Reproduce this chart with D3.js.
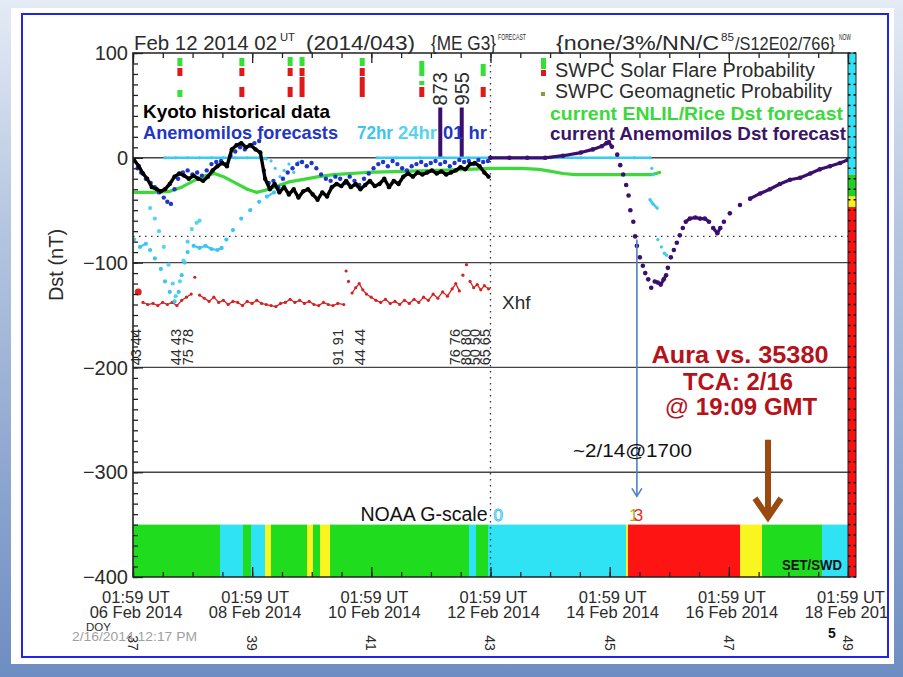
<!DOCTYPE html>
<html><head><meta charset="utf-8">
<script src="https://cdn.jsdelivr.net/npm/d3@7/dist/d3.min.js"></script>
<style>
html,body{margin:0;padding:0;background:#fff;}
svg{display:block;}
</style></head><body>
<svg id="c" width="903" height="677"></svg>
<script>
// ---------------- DATA ----------------
// time = day of February 2014 (UT, fractional); values = Dst (nT)
const timeDomain = [6.083, 18.083];
const dstDomain = [100, -400];
const yTickValues = [100, 0, -100, -200, -300, -400];
const xTickDays = [6.083, 8.083, 10.083, 12.083, 14.083, 16.083, 18.083];
const xTickLine1 = ["01:59 UT","01:59 UT","01:59 UT","01:59 UT","01:59 UT","01:59 UT","01:59 UT"];
const xTickLine2 = ["06 Feb 2014","08 Feb 2014","10 Feb 2014","12 Feb 2014","14 Feb 2014","16 Feb 2014","18 Feb 2014"];
const doyLabels = ["37","39","41","43","45","47","49"];
const gridDst = [0, -100, -200, -300];
const dottedDst = -75;
const nowDay = 12.083;

const kyoto = [[6.10,-2],[6.18,-8],[6.25,-15],[6.32,-20],[6.40,-28],[6.48,-30],[6.55,-32],[6.62,-30],[6.70,-25],[6.78,-18],[6.86,-15],[6.94,-17],[7.02,-20],[7.10,-17],[7.18,-20],[7.26,-22],[7.34,-18],[7.42,-12],[7.50,-8],[7.58,-5],[7.66,-8],[7.74,8],[7.82,12],[7.90,14],[7.98,10],[8.06,12],[8.14,8],[8.22,5],[8.30,-20],[8.38,-30],[8.46,-25],[8.54,-33],[8.62,-28],[8.70,-35],[8.78,-30],[8.86,-38],[8.94,-32],[9.02,-30],[9.10,-35],[9.18,-40],[9.26,-33],[9.34,-37],[9.42,-28],[9.50,-25],[9.58,-27],[9.66,-22],[9.74,-28],[9.82,-25],[9.90,-30],[9.98,-26],[10.06,-22],[10.14,-27],[10.22,-25],[10.30,-20],[10.38,-28],[10.46,-22],[10.54,-25],[10.62,-18],[10.70,-15],[10.78,-18],[10.86,-14],[10.94,-16],[11.02,-14],[11.10,-12],[11.18,-15],[11.26,-13],[11.34,-16],[11.42,-14],[11.50,-12],[11.58,-9],[11.66,-11],[11.74,-6],[11.82,-5],[11.90,-8],[11.98,-14],[12.05,-18]];

const anemo01hr = [[6.10,-3],[6.16,-10],[6.22,-14],[6.30,-20],[6.38,-24],[6.45,-28],[6.52,-33],[6.60,-38],[6.66,-42],[6.72,-44],[6.78,-30],[6.84,-20],[6.92,-14],[7.00,-12],[7.08,-16],[7.16,-14],[7.24,-17],[7.32,-12],[7.40,-6],[7.48,-4],[7.56,-3],[7.64,-6],[7.72,2],[7.80,6],[7.88,10],[7.96,8],[8.04,12],[8.12,14],[8.20,16],[8.28,-12],[8.36,-24],[8.44,-22],[8.52,-28],[8.60,-20],[8.68,-14],[8.76,-10],[8.84,-6],[8.92,-4],[9.00,-8],[9.08,-5],[9.16,-10],[9.24,-16],[9.32,-20],[9.40,-22],[9.48,-18],[9.56,-20],[9.64,-24],[9.72,-18],[9.80,-22],[9.88,-26],[9.96,-20],[10.04,-15],[10.12,-10],[10.20,-6],[10.28,-4],[10.36,-8],[10.44,-3],[10.52,-6],[10.60,-10],[10.68,-12],[10.76,-8],[10.84,-6],[10.92,-4],[11.00,-7],[11.08,-5],[11.16,-3],[11.24,-6],[11.32,-4],[11.40,-8],[11.48,-5],[11.56,-2],[11.64,-4],[11.72,-3],[11.80,-6],[11.88,-2],[11.96,-4],[12.04,-3]];

const cyan72 = [[6.10,-78],[6.20,-85],[6.30,-82],[6.37,-88],[6.45,-96],[6.55,-106],[6.62,-118],[6.70,-128],[6.78,-137],[6.85,-128],[6.90,-112],[6.95,-100],[7.00,-90],[7.10,-84],[7.20,-86],[7.30,-84],[7.40,-87],[7.50,-88],[7.57,-86],[7.65,-78],[7.76,-69],[7.90,-58],[8.05,-50],[8.20,-42],[8.33,-37],[8.45,-33]];
const cyan24 = [[6.37,-48],[6.45,-58],[6.52,-70],[6.60,-85],[6.68,-102],[6.75,-120],[6.80,-132],[6.87,-118],[6.93,-98],[7.00,-80],[7.07,-68],[7.15,-62],[7.20,-60]];
const cyanZero = [[6.62,0],[6.80,0],[7.00,0],[7.20,0],[7.40,0],[7.60,0],[7.80,0],[8.00,0],[8.20,0],[8.32,-1],null,
  [8.40,-3],[8.47,-10],[8.55,-18],[8.62,-12],[8.70,-6],[8.78,-14],[8.86,-4],null,
  [10.18,0],[10.50,0],[10.90,0],[11.30,0],[11.70,0],[12.08,0],[12.60,0],[13.10,0],[13.60,0],[14.10,0],[14.50,0],[14.76,0],[14.79,-10],[14.81,-16],null,
  [14.76,-40],[14.81,-44],[14.88,-48],null,[14.89,-78],[14.95,-85],[15.00,-91],[15.04,-93]];

const enlil = [[6.08,-33],[6.40,-33],[6.70,-32],[6.90,-28],[7.10,-22],[7.30,-17],[7.45,-15],[7.60,-18],[7.80,-24],[8.00,-30],[8.16,-33],[8.30,-31],[8.50,-27],[8.70,-23],[8.90,-21],[9.20,-18],[9.45,-16],[10.00,-14],[10.60,-13],[11.20,-12],[11.70,-11],[12.08,-10],[12.60,-10],[12.90,-11],[13.10,-13],[13.30,-15],[13.50,-16],[14.00,-16],[14.50,-16],[14.80,-16],[14.92,-14]];

const anemoCurrent = [[12.08,0],[12.40,0],[12.70,0],[13.00,0],[13.30,2],[13.60,5],[13.80,8],[13.95,11],[14.03,14],[14.07,15],[14.12,10.5],[14.21,3],[14.26,-7],[14.31,-16],[14.36,-26],[14.40,-36],[14.43,-50],[14.48,-61],[14.51,-75],[14.54,-84],[14.59,-95],[14.64,-103],[14.68,-110],[14.73,-116],[14.78,-124],[14.84,-118],[14.89,-119],[14.94,-121],[14.99,-116],[15.03,-112],[15.06,-105],[15.11,-95],[15.16,-88],[15.21,-81],[15.26,-74],[15.31,-67],[15.36,-61],[15.43,-58],[15.52,-57],[15.60,-58],[15.68,-58],[15.75,-61],[15.82,-67],[15.89,-72],[15.94,-67],[16.00,-61],[16.10,-53],[16.27,-45],[16.44,-39],[16.61,-34],[16.77,-30],[16.94,-25],[17.11,-21],[17.28,-19],[17.45,-15],[17.61,-11],[17.78,-8],[17.95,-5],[18.08,-2]];

const xhf = [[6.25,-138],[6.33,-140],[6.42,-139],[6.50,-141],[6.58,-138],[6.66,-140],[6.74,-138],[6.82,-141],[6.90,-136],[6.98,-133],[7.06,-130],[7.12,-114],[7.20,-131],[7.28,-134],[7.36,-137],[7.44,-133],[7.52,-138],[7.60,-136],[7.68,-140],[7.76,-137],[7.84,-138],[7.92,-141],[8.00,-137],[8.08,-139],[8.16,-136],[8.24,-139],[8.32,-140],[8.40,-141],[8.48,-142],[8.56,-139],[8.64,-138],[8.72,-135],[8.80,-138],[8.88,-136],[8.96,-139],[9.04,-137],[9.12,-140],[9.20,-141],[9.28,-138],[9.36,-140],[9.44,-141],[9.52,-139],[9.62,-140],[9.66,-108],[9.70,-118],[9.76,-129],[9.82,-124],[9.88,-120],[9.94,-126],[10.00,-130],[10.08,-133],[10.16,-136],[10.24,-138],[10.32,-135],[10.40,-139],[10.48,-137],[10.56,-140],[10.64,-136],[10.72,-139],[10.80,-135],[10.88,-138],[10.96,-133],[11.04,-136],[11.12,-130],[11.20,-134],[11.28,-128],[11.36,-132],[11.44,-125],[11.50,-120],[11.56,-127],[11.62,-112],[11.68,-102],[11.74,-118],[11.80,-124],[11.86,-121],[11.92,-126],[11.98,-122],[12.05,-125]];
const xhfStart = [[6.17,-128]];

const flareLabelDays = [6.13, 6.80, 7.01, 9.52, 9.89, 11.49, 11.66, 11.82, 11.99];
const flareLabelTexts = ["43 44","44 43","75 78","91 91","44 44","76 76","80 80","50 50","65 65"];

const cmeDays = [11.24, 11.60];
const cmeDst = [48, 48];
const cmeSpeeds = ["873","955"];

const probDays = [6.87, 7.91, 8.72, 8.92, 9.93, 10.93, 11.96];
const flareGreen = [40, 40, 45, 45, 40, 75, 60];
const flareRed   = [40, 40, 40, 40, 40, 0, 0];
const geoGreen   = [35, 0, 0, 0, 0, 20, 0];
const geoRed     = [0, 50, 50, 100, 100, 50, 50];

const gBreaks = [6.083,7.543,7.929,8.064,8.299,8.399,9.004,9.104,9.222,9.390,11.722,11.840,12.041,14.357,14.391,16.271,16.640,17.647,18.083];
const gLevels = [1,0,1,0,2,1,2,1,2,1,0,1,0,2,3,2,1,0];
const gColors = ["#2fe2f4","#1fdc1f","#f8f520","#ff1414"];

const dstBarBreaks = [100, -16, -37, -47, -400];
const dstBarColors = ["#2fe2f4","#22d022","#f8f020","#ff1010"];

const arrowDay = 14.54, arrowFrom = -78, arrowTo = -323;
const tcaDay = 16.74, tcaFrom = -269, tcaTo = -343;

// ---------------- DRAW ----------------
const svg = d3.select('#c');
const FONT = "'Liberation Sans', Arial, sans-serif";
const INK = "#2b2b2b";
const defs = svg.append('defs');
const grad = defs.append('linearGradient').attr('id','bg').attr('x1',0).attr('y1',0).attr('x2',0).attr('y2',1);
grad.append('stop').attr('offset','0%').attr('stop-color','#e4ebf5');
grad.append('stop').attr('offset','35%').attr('stop-color','#b3c4df');
grad.append('stop').attr('offset','100%').attr('stop-color','#6e8dc2');
svg.append('rect').attr('width',903).attr('height',677).attr('fill','url(#bg)');
svg.append('rect').attr('x',11).attr('y',8).attr('width',883).attr('height',656).attr('fill','#fff');
defs.append('clipPath').attr('id','slide').append('rect').attr('x',23).attr('y',15).attr('width',864).attr('height',641);

const root = svg.append('g').attr('clip-path','url(#slide)');

const L=133,R=848,T=53,B=577;
const x = d3.scaleLinear().domain(timeDomain).range([L,R]);
const y = d3.scaleLinear().domain(dstDomain).range([T,B]);
defs.append('clipPath').attr('id','plot').append('rect').attr('x',L).attr('y',T).attr('width',R-L).attr('height',B-T);

// G-scale bar
const gSeg = gLevels.map((lv,i)=>({a:gBreaks[i],b:gBreaks[i+1],lv}));
root.append('g').selectAll('rect').data(gSeg).join('rect')
  .attr('x',d=>x(d.a)).attr('width',d=>x(d.b)-x(d.a)+0.3)
  .attr('y',y(-350)).attr('height',y(-400)-y(-350)).attr('fill',d=>gColors[d.lv]);

// grid lines
root.append('g').selectAll('line').data(gridDst).join('line')
  .attr('x1',L).attr('x2',R).attr('y1',d=>y(d)).attr('y2',d=>y(d))
  .attr('stroke','#444').attr('stroke-width',1.4);
root.append('line').attr('x1',L).attr('x2',R).attr('y1',y(dottedDst)).attr('y2',y(dottedDst))
  .attr('stroke','#333').attr('stroke-width',1.3).attr('stroke-dasharray','1.5,4.5');
root.append('line').attr('x1',x(nowDay)).attr('x2',x(nowDay)).attr('y1',T).attr('y2',B)
  .attr('stroke','#333').attr('stroke-width',1.3).attr('stroke-dasharray','1.5,4.5');

// flare / geomagnetic probability bars
const ph = d3.scaleLinear().domain([0,100]).range([0,20]);
const pb = root.append('g');
const row1 = T+23, row2 = T+44;
probDays.forEach((d,i)=>{
  const cx = x(d)-2.5;
  const stack = (base, red, green)=>{
    if(red>0) pb.append('rect').attr('x',cx).attr('width',5).attr('y',base-ph(red)).attr('height',ph(red)).attr('fill','#e01818');
    const top = base-ph(red)-(red>0?2:0);
    if(green>0) pb.append('rect').attr('x',cx).attr('width',5).attr('y',top-ph(green)).attr('height',ph(green)).attr('fill','#33e033');
  };
  stack(row1, flareRed[i], flareGreen[i]);
  stack(row2, geoRed[i], geoGreen[i]);
});

// CME bars
const cme = root.append('g');
cme.selectAll('rect').data(cmeDays).join('rect')
  .attr('x',d=>x(d)-2).attr('width',4).attr('y',(d,i)=>y(cmeDst[i])).attr('height',(d,i)=>y(0)-y(cmeDst[i]))
  .attr('fill','#3a0f6e');
cme.selectAll('text').data(cmeDays).join('text')
  .attr('transform',(d,i)=>`translate(${x(d)},${y(cmeDst[i])-2}) rotate(-90)`)
  .attr('dy','0.36em').attr('font-family',FONT).attr('font-size',20).attr('fill',INK)
  .text((d,i)=>cmeSpeeds[i]);

// flare class labels
root.append('g').selectAll('text').data(flareLabelDays).join('text')
  .attr('transform',d=>`translate(${x(d)},${y(-198)}) rotate(-90)`)
  .attr('dy','0.36em').attr('font-family',FONT).attr('font-size',14.5).attr('fill',INK)
  .text((d,i)=>flareLabelTexts[i]);

// series drawing
const data = root.append('g').attr('clip-path','url(#plot)');
function series(arr, o){
  const runs=[]; let cur=[];
  arr.forEach(d=>{
    if(!d){ if(cur.length) runs.push(cur); cur=[]; return; }
    const p=[x(d[0]),y(d[1])];
    if(cur.length){ const q=cur[cur.length-1]; if(Math.abs(p[1]-q[1])>o.maxDy){ runs.push(cur); cur=[]; } }
    cur.push(p);
  });
  if(cur.length) runs.push(cur);
  const g = data.append('g');
  if(o.lw>0) g.selectAll('path').data(runs.filter(r=>r.length>1)).join('path')
    .attr('d',d3.line()).attr('fill','none').attr('stroke',o.color).attr('stroke-width',o.lw)
    .attr('stroke-linejoin','round').attr('stroke-linecap','round');
  g.selectAll('circle').data(arr.filter(d=>d)).join('circle')
    .attr('cx',d=>x(d[0])).attr('cy',d=>y(d[1])).attr('r',o.r).attr('fill',o.color);
}
series(xhf,{color:'#d42222',lw:1.3,r:1.6,maxDy:9});
series(xhfStart,{color:'#e02020',lw:0,r:3.5,maxDy:0});
series(enlil,{color:'#3cd83c',lw:3.2,r:1.2,maxDy:99});
series(cyan72,{color:'#3cc6ee',lw:2.2,r:2.1,maxDy:5});
series(cyan24,{color:'#58d2ee',lw:2.2,r:2.1,maxDy:5});
series(cyanZero,{color:'#3ccbf0',lw:2.6,r:1.6,maxDy:5});
series(anemo01hr,{color:'#1f36c8',lw:0,r:2.2,maxDy:0});
series(kyoto,{color:'#000',lw:3.4,r:2.2,maxDy:99});
series(anemoCurrent,{color:'#3a0f6e',lw:3.2,r:2.3,maxDy:6});

// right Dst colour bar
const rb = root.append('g');
dstBarColors.forEach((c,i)=>{
  rb.append('rect').attr('x',R).attr('width',8).attr('y',y(dstBarBreaks[i])).attr('height',y(dstBarBreaks[i+1])-y(dstBarBreaks[i])).attr('fill',c);
});
rb.append('rect').attr('x',R).attr('width',8).attr('y',T).attr('height',B-T).attr('fill','none').attr('stroke','#222').attr('stroke-width',1);
rb.selectAll('g').data(d3.range(-400,101,10)).join('g').each(function(v){
  d3.select(this).append('line').attr('x1',R).attr('x2',R+2.5).attr('y1',y(v)).attr('y2',y(v)).attr('stroke','#111').attr('stroke-width',1.5);
  d3.select(this).append('line').attr('x1',R+5.5).attr('x2',R+8).attr('y1',y(v)).attr('y2',y(v)).attr('stroke','#111').attr('stroke-width',1.5);
});

// axes (ticks inward)
const minorX = d3.range(0,25).map(i=>timeDomain[0]+i*0.5);
const ax = root.append('g');
ax.append('g').attr('transform',`translate(0,${B})`).call(d3.axisBottom(x).tickValues(minorX).tickSize(-5).tickFormat(''));
ax.append('g').attr('transform',`translate(0,${B})`).call(d3.axisBottom(x).tickValues(xTickDays).tickSize(-10).tickFormat(''));
ax.append('g').attr('transform',`translate(0,${T})`).call(d3.axisTop(x).tickValues(minorX).tickSize(-5).tickFormat(''));
ax.append('g').attr('transform',`translate(0,${T})`).call(d3.axisTop(x).tickValues(xTickDays).tickSize(-10).tickFormat(''));
ax.append('g').attr('transform',`translate(${L},0)`).call(d3.axisLeft(y).tickValues(d3.range(-400,101,10)).tickSize(-5).tickFormat(''));
ax.append('g').attr('transform',`translate(${L},0)`).call(d3.axisLeft(y).tickValues(yTickValues).tickSize(-10).tickFormat(''));
ax.selectAll('.domain').remove();
ax.selectAll('line').attr('stroke','#222').attr('stroke-width',1.3);
// frame
root.append('path').attr('d',`M${R},${T}H${L}V${B}H${R}`).attr('fill','none').attr('stroke','#222').attr('stroke-width',1.6);

// y labels
root.append('g').selectAll('text').data(yTickValues).join('text')
  .attr('x',L-5).attr('y',d=>y(d)).attr('dy','0.36em').attr('text-anchor','end')
  .attr('font-family',FONT).attr('font-size',20).attr('fill',INK)
  .text(d=>d<0?'\u2212'+(-d):String(d));
root.append('text').attr('transform',`translate(63,${(y(-100)+y(-200))/2-50}) rotate(-90)`)
  .attr('text-anchor','middle').attr('font-family',FONT).attr('font-size',20).attr('fill',INK).text('Dst (nT)');

// x labels
const xl = root.append('g').attr('font-family',FONT).attr('fill',INK).attr('text-anchor','middle');
xl.selectAll('.l1').data(xTickDays).join('text').attr('class','l1')
  .attr('x',d=>x(d)+3).attr('y',603).attr('font-size',16.5).text((d,i)=>xTickLine1[i]);
xl.selectAll('.l2').data(xTickDays).join('text').attr('class','l2')
  .attr('x',d=>x(d)+3).attr('y',618).attr('font-size',16.5).text((d,i)=>xTickLine2[i]);
xl.selectAll('.doy').data(xTickDays).join('text').attr('class','doy')
  .attr('transform',d=>`translate(${x(d)},643) rotate(90)`).attr('dy','0.36em')
  .attr('font-size',14).text((d,i)=>doyLabels[i]);
root.append('text').attr('x',86).attr('y',631).attr('font-family',FONT).attr('font-size',11.5).attr('fill',INK).text('DOY');

// title
const title = root.append('g').attr('font-family',FONT).attr('fill',INK);
[
 ["Feb 12 2014 02",134,50,20,143],["UT",280,41,11,15],["(2014/043)",306,50,20,109],["{ME G3}",431,50,20,65],
 ["FORECAST",498,40,9,28],["{none/3%/NN/C",556,50,20,163],["85",721,41,10,13],["/S12E02/766}",735,50,19,100],["NOW",839,40,9,12]
].forEach(p=>{
  title.append('text').attr('x',p[1]).attr('y',p[2]).attr('font-size',p[3])
    .attr('textLength',p[4]).attr('lengthAdjust','spacingAndGlyphs').text(p[0]);
});

// right legend
const lg = root.append('g').attr('font-family',FONT);
lg.append('rect').attr('x',541).attr('y',58).attr('width',5).attr('height',11).attr('fill','#33e033');
lg.append('rect').attr('x',541).attr('y',70).attr('width',5).attr('height',6).attr('fill','#e01818');
lg.append('rect').attr('x',541).attr('y',92).attr('width',4).attr('height',4).attr('fill','#7aa52a');
lg.append('text').attr('x',555).attr('y',77).attr('font-size',20).attr('fill',INK).attr('textLength',260).attr('lengthAdjust','spacingAndGlyphs').text('SWPC Solar Flare Probability');
lg.append('text').attr('x',555).attr('y',98).attr('font-size',20).attr('fill',INK).attr('textLength',277).attr('lengthAdjust','spacingAndGlyphs').text('SWPC Geomagnetic Probability');
lg.append('text').attr('x',550).attr('y',120).attr('font-size',19).attr('font-weight','bold').attr('fill','#3cd83c').attr('textLength',293).attr('lengthAdjust','spacingAndGlyphs').text('current ENLIL/Rice Dst forecast');
lg.append('text').attr('x',550).attr('y',140).attr('font-size',19).attr('font-weight','bold').attr('fill','#3a1466').attr('textLength',296).attr('lengthAdjust','spacingAndGlyphs').text('current Anemomilos Dst forecast');
// left legend
lg.append('text').attr('x',143).attr('y',118).attr('font-size',19).attr('font-weight','bold').attr('fill','#000').attr('textLength',187).attr('lengthAdjust','spacingAndGlyphs').text('Kyoto historical data');
lg.append('text').attr('x',143).attr('y',139).attr('font-size',19).attr('font-weight','bold').attr('fill','#1f36c8').attr('textLength',195).attr('lengthAdjust','spacingAndGlyphs').text('Anemomilos forecasts');
lg.append('text').attr('x',357).attr('y',139).attr('font-size',19).attr('font-weight','bold').attr('fill','#3cc6ee').attr('textLength',36).attr('lengthAdjust','spacingAndGlyphs').text('72hr');
lg.append('text').attr('x',398).attr('y',139).attr('font-size',19).attr('font-weight','bold').attr('fill','#58d2ee').attr('textLength',39).attr('lengthAdjust','spacingAndGlyphs').text('24hr');
lg.append('text').attr('x',443).attr('y',139).attr('font-size',19).attr('font-weight','bold').attr('fill','#1f36c8').attr('textLength',44).attr('lengthAdjust','spacingAndGlyphs').text('01 hr');

// in-plot texts
const tx = root.append('g').attr('font-family',FONT);
tx.append('text').attr('x',502).attr('y',309).attr('font-size',19).attr('fill',INK).text('Xhf');
tx.append('text').attr('x',x(nowDay)-3).attr('y',521).attr('text-anchor','end').attr('font-size',19.5).attr('fill','#111').attr('textLength',127).attr('lengthAdjust','spacingAndGlyphs').text('NOAA G-scale');
tx.append('text').attr('x',x(nowDay)+3).attr('y',521).attr('font-size',17).attr('fill','none').attr('stroke','#3cc8e8').attr('stroke-width',1).text('0');
const g13 = tx.append('text').attr('x',x(arrowDay)-8).attr('y',521).attr('font-size',17);
g13.append('tspan').attr('fill','#a8b020').text('1');
g13.append('tspan').attr('dx',-4.5).attr('fill','#e0301a').text('3');
tx.append('text').attr('x',782).attr('y',570).attr('font-size',14).attr('font-weight','bold').attr('fill','#111').attr('textLength',60).attr('lengthAdjust','spacingAndGlyphs').text('SET/SWD');

// annotations
const an = root.append('g');
const ax1 = x(arrowDay);
an.append('line').attr('x1',ax1).attr('x2',ax1).attr('y1',y(arrowFrom)).attr('y2',y(arrowTo)).attr('stroke','#4f81bd').attr('stroke-width',1.6);
an.append('path').attr('d',`M${ax1-5},${y(arrowTo)-8}L${ax1},${y(arrowTo)}L${ax1+5},${y(arrowTo)-8}`).attr('fill','none').attr('stroke','#4f81bd').attr('stroke-width',1.6);
const bx = x(tcaDay);
an.append('line').attr('x1',bx).attr('x2',bx).attr('y1',y(tcaFrom)).attr('y2',y(tcaTo)-4).attr('stroke','#9a4a10').attr('stroke-width',6);
an.append('path').attr('d',`M${bx-13},${y(tcaTo)-19}L${bx},${y(tcaTo)}L${bx+13},${y(tcaTo)-19}`).attr('fill','none').attr('stroke','#9a4a10').attr('stroke-width',6).attr('stroke-linejoin','miter');
an.append('text').attr('x',573).attr('y',457).attr('font-family',FONT).attr('font-size',19).attr('fill','#111').attr('textLength',119).attr('lengthAdjust','spacingAndGlyphs').text('~2/14@1700');
const red = '#b5121b';
an.append('text').attr('x',740).attr('y',363).attr('text-anchor','middle').attr('font-family',FONT).attr('font-weight','bold').attr('font-size',24).attr('fill',red).attr('textLength',177).attr('lengthAdjust','spacingAndGlyphs').text('Aura vs. 35380');
an.append('text').attr('x',738).attr('y',390).attr('text-anchor','middle').attr('font-family',FONT).attr('font-weight','bold').attr('font-size',24).attr('fill',red).attr('textLength',110).attr('lengthAdjust','spacingAndGlyphs').text('TCA: 2/16');
const t3 = an.append('text').attr('x',741).attr('y',415).attr('text-anchor','middle').attr('font-family',FONT).attr('font-size',24).attr('fill',red);
t3.append('tspan').text('@ ');
t3.append('tspan').attr('font-weight','bold').text('19:09 GMT');

// slide footer
root.append('text').attr('x',72).attr('y',641).attr('font-family',FONT).attr('font-size',12.5).attr('fill','#a0a0a0').attr('textLength',125).attr('lengthAdjust','spacingAndGlyphs').text('2/16/2014 12:17 PM');
root.append('text').attr('x',828).attr('y',638).attr('font-family',FONT).attr('font-size',14).attr('font-weight','bold').attr('fill','#111').text('5');

// slide border
svg.append('rect').attr('x',22).attr('y',14).attr('width',866).attr('height',643).attr('fill','none').attr('stroke','#2424e8').attr('stroke-width',2);
</script></body></html>
